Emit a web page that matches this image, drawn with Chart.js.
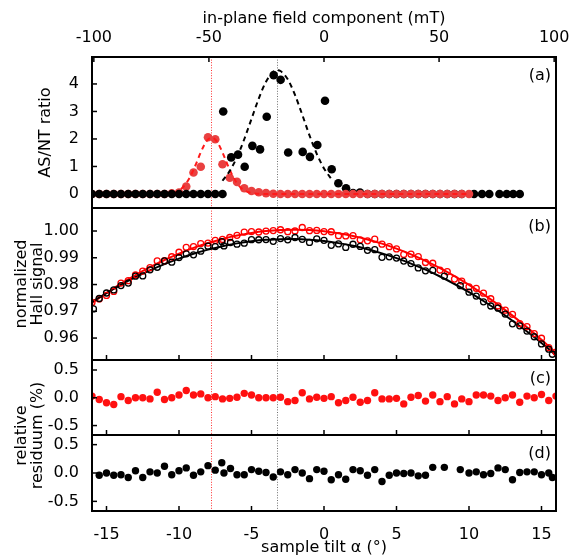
<!DOCTYPE html>
<html><head><meta charset="utf-8">
<script src="https://cdn.jsdelivr.net/npm/chart.js@4.4.1/dist/chart.umd.min.js"></script>
<style>
html,body{margin:0;padding:0;background:#fff;}
#wrap{position:relative;width:576px;height:559px;background:#fff;}
#wrap canvas{position:absolute;left:0;top:0;}
</style></head><body>
<div id="wrap">
<canvas id="cA" width="576" height="559"></canvas>
<canvas id="cB" width="576" height="559"></canvas>
<canvas id="cC" width="576" height="559"></canvas>
<canvas id="cD" width="576" height="559"></canvas>
<canvas id="cT" width="576" height="559"></canvas>
</div>
<script>
// ---------- tick labels ----------
const xTickVals = [-15,-10,-5,0,5,10,15];
const xTickLabels = ['-15','-10','-5','0','5','10','15'];
const topTickVals = [-100,-50,0,50,100];
const topTickLabels = ['-100','-50','0','50','100'];
const aYTickVals = [0,1,2,3,4];
const aYTickLabels = ['0','1','2','3','4'];
const bYTickVals = [0.96,0.97,0.98,0.99,1.00];
const bYTickLabels = ['0.96','0.97','0.98','0.99','1.00'];
const rYTickVals = [-0.5,0,0.5];
const rYTickLabels = ['-0.5','0.0','0.5'];
const markerAngles = [-7.78, -3.26];

// ---------- panel (a): AS/NT ratio ----------
const aBlackX = [-16,-15.5,-15,-14.5,-14,-13.5,-13,-12.5,-12,-11.5,-11,-10.5,-10,-9.5,-9,-8.5,-8,-7.5,-7,
  -6.95,-6.4,-5.93,-5.47,-4.94,-4.41,-3.95,-3.47,-2.99,-2.47,-1.47,-0.97,-0.46,0.07,0.53,0.99,1.52,2.0,2.48,
  3,3.5,4,4.5,5,5.5,6,6.5,7,7.5,8,8.5,9,9.5,
  10.35,10.9,11.4,12.1,12.6,13.05,13.5];
const aBlackY = [0,0,0,0,0,0,0,0,0,0,0,0,0,0,0,0,0,0,0,
  3.0,1.33,1.43,0.99,1.75,1.62,2.81,4.32,4.15,1.51,1.53,1.35,1.78,3.39,0.90,0.39,0.21,0.03,0.05,
  0,0,0,0,0,0,0,0,0,0,0,0,0,0,
  0,0,0,0,0,0,0];
const aRedX = [-16,-15.5,-15,-14.5,-14,-13.5,-13,-12.5,-12,-11.5,-11,-10.5,-10,-9.5,-9,-8.5,-8,-7.5,-7,-6.5,-6,-5.5,-5,-4.5,-4,-3.5,
  -3,-2.5,-2,-1.5,-1,-0.5,0,0.5,1,1.5,2,2.5,3,3.5,4,4.5,5,5.5,6,6.5,7,7.5,8,8.5,9,9.5,10];
const aRedY = [0,0,0,0,0,0,0,0,0,0,0,0.02,0.05,0.27,0.78,0.99,2.06,1.99,1.08,0.59,0.44,0.21,0.11,0.06,0.03,0.01,
  0,0,0,0,0,0,0,0,0,0,0,0,0,0,0,0,0,0,0,0,0,0,0,0,0,0,0];
const aRedFitX = [-16,-12,-11,-10.5,-10.25,-10,-9.75,-9.5,-9.25,-9,-8.75,-8.5,-8.25,-8,-7.75,-7.5,-7.25,-7,-6.75,-6.5,-6.25,-6,-5.75,-5.5,-5,-4.5,-4,10];
const aRedFitY = [0,0,0.007,0.034,0.069,0.13,0.235,0.39,0.606,0.88,1.19,1.51,1.79,1.98,2.05,1.98,1.79,1.51,1.19,0.88,0.606,0.39,0.235,0.13,0.034,0.007,0,0];
const aBlackFitX = [-7,-6.5,-6,-5.5,-5,-4.5,-4,-3.5,-3.2,-3,-2.5,-2,-1.5,-1,-0.5,0,0.6];
const aBlackFitY = [0.48,0.84,1.34,1.99,2.73,3.47,4.08,4.44,4.50,4.47,4.17,3.60,2.88,2.13,1.46,0.93,0.48];

// ---------- panel (b): normalized Hall signal ----------
const bRedX = [-16,-15.5,-15,-14.5,-14,-13.5,-13,-12.5,-12,-11.5,-11,-10.5,-10,-9.5,-9,-8.5,-8,-7.5,-7,-6.5,-6,-5.5,-5,-4.5,-4,-3.5,-3,-2.5,-2,-1.5,-1,-0.5,
  0,0.5,1,1.5,2,2.5,3,3.5,4,4.5,5,5.5,6,6.5,7,7.5,8,8.5,9,9.5,10,10.5,11,11.5,12,12.5,13,13.5,14,14.5,15,15.5,16];
const bRedY = [0.97333,0.97464,0.97594,0.97741,0.98053,0.98146,0.98356,0.98504,0.98631,0.98884,0.98888,0.99038,0.99207,0.99392,0.99418,0.99529,
  0.9955,0.99648,0.99685,0.99758,0.9984,0.99959,0.99978,0.99963,0.99997,1.00018,1.00048,0.99974,1.0,1.00132,1.00014,1.00022,
  0.99979,0.99973,0.99826,0.99816,0.99825,0.9967,0.99635,0.99696,0.99507,0.99414,0.9933,0.99124,0.99136,0.99044,0.98823,0.98796,
  0.98542,0.98482,0.98204,0.98129,0.97916,0.97857,0.97679,0.97468,0.97199,0.97043,0.96886,0.96542,0.96429,0.96168,0.95993,0.95641,0.95472];
const bBlackX = [-15.9,-15.5,-15,-14.5,-14,-13.5,-13,-12.5,-12,-11.5,-11,-10.5,-10,-9.5,-9,-8.5,-8,-7.5,-7.05,-6.9,-6.45,
  -6,-5.5,-5,-4.5,-4,-3.5,-3,-2.5,-2,-1.5,-1,-0.5,0,0.5,1,1.5,2,2.5,3,3.5,4,4.5,5,5.5,6,6.5,7,7.5,8.3,9.4,
  10,10.5,11,11.5,12,12.5,13,13.5,14,14.5,15,15.5,15.75];
const bBlackY = [0.9709,0.97478,0.97683,0.97798,0.97961,0.98053,0.98312,0.98323,0.9855,0.98646,0.98881,0.98835,0.99008,0.99148,0.99109,0.99247,0.99433,0.99419,0.99606,0.99444,0.99571,
  0.99508,0.99547,0.99676,0.99673,0.99679,0.99613,0.99716,0.9967,0.99757,0.99688,0.99573,0.99709,0.99653,0.99466,0.99517,0.99388,0.99506,0.99423,0.99278,0.99303,0.99017,0.99037,0.98987,0.98876,0.98784,0.9862,0.98514,0.98526,0.98314,0.97957,
  0.97714,0.9757,0.97354,0.97197,0.97115,0.96897,0.96532,0.96456,0.96262,0.96048,0.95782,0.95586,0.95395];
const bFitX = [-16,-15,-14,-13,-12,-11,-10,-9,-8,-7,-6,-5,-4,-3,-2,-1,0,1,2,3,4,5,6,7,8,9,10,11,12,13,14,15,16];
const bRedFitY = [0.97304,0.97682,0.98033,0.98356,0.98651,0.98918,0.99157,0.99368,0.9955,0.99705,0.9983,0.99928,0.99997,1.00038,1.0005,1.00034,
  0.99989,0.99916,0.99815,0.99685,0.99527,0.9934,0.99126,0.98882,0.98611,0.98312,0.97985,0.9763,0.97248,0.96838,0.964,0.95935,0.95443];
const bBlackFitY = [0.97349,0.97683,0.9799,0.98273,0.9853,0.98762,0.98968,0.99149,0.99304,0.99434,0.99538,0.99616,0.99669,0.99696,0.99697,0.99673,
  0.99623,0.99547,0.99446,0.99318,0.99166,0.98987,0.98784,0.98554,0.983,0.9802,0.97714,0.97384,0.97028,0.96648,0.96242,0.95812,0.95357];

// ---------- panel (c): red relative residuum (%) ----------
const cX = bRedX;
const cY = [0.03,-0.03,-0.09,-0.12,0.02,-0.05,0,0,-0.02,0.10,-0.03,0,0.05,0.13,0.05,0.07,0,0.02,-0.02,-0.01,0.01,0.08,0.05,0,0,0,0.01,-0.07,-0.05,0.09,-0.02,0.01,
  -0.01,0.02,-0.09,-0.05,0.01,-0.08,-0.05,0.09,-0.02,-0.02,-0.01,-0.11,0.01,0.04,-0.06,0.05,-0.07,0.02,-0.11,-0.02,-0.07,0.05,0.05,0.03,-0.05,0,0.05,-0.08,0.03,0,0.06,-0.05,0.03];

// ---------- panel (d): black relative residuum (%) ----------
const dX = [-15.5,-15,-14.5,-14,-13.5,-13,-12.5,-12,-11.5,-11,-10.5,-10,-9.5,-9,-8.5,-8,-7.5,-7.05,-6.9,-6.45,
  -6,-5.5,-5,-4.5,-4,-3.5,-3,-2.5,-2,-1.5,-1,-0.5,0,0.5,1,1.5,2,2.5,3,3.5,4,4.5,5,5.5,6,6.5,7,7.5,8.3,9.4,
  10,10.5,11,11.5,12,12.5,13,13.5,14,14.5,15,15.5,15.75];
const dY = [-0.04,0,-0.04,-0.03,-0.08,0.04,-0.08,0.02,0,0.12,-0.03,0.04,0.09,-0.04,0.02,0.13,0.05,0.18,0,0.08,
  -0.03,-0.03,0.06,0.03,0.01,-0.07,0.02,-0.03,0.06,0,-0.10,0.06,0.03,-0.12,-0.03,-0.11,0.06,0.04,-0.04,0.06,-0.15,-0.04,0,-0.01,0,-0.05,-0.04,0.10,0.10,0.06,
  0,0.02,-0.03,-0.01,0.09,0.06,-0.12,0.01,0.02,0.02,-0.03,0,-0.08];

// ---------- setup ----------
const FONT = "'DejaVu Sans', 'Liberation Sans', Arial, sans-serif";
Chart.defaults.font.family = FONT;
Chart.defaults.font.size = 16;
Chart.defaults.color = '#000';

const pts = (xs, ys) => xs.map((x, i) => ({x: x, y: ys[i]}));

const deco = {
  id: 'deco',
  beforeDatasetsDraw(chart, args, o) {
    const ctx = chart.ctx, a = chart.chartArea, xs = chart.scales.x;
    if (!o.vlines) return;
    ctx.save();
    ctx.lineWidth = 1;
    ctx.setLineDash([1, 1.6]);
    o.vlines.forEach((v, i) => {
      const px = Math.round(xs.getPixelForValue(v)) + 0.5;
      ctx.strokeStyle = i === 0 ? '#ff3030' : '#707070';
      ctx.beginPath(); ctx.moveTo(px, a.top); ctx.lineTo(px, a.bottom); ctx.stroke();
    });
    ctx.restore();
  },
  afterDatasetsDraw(chart, args, o) {
    const ctx = chart.ctx, a = chart.chartArea;
    ctx.save();
    ctx.strokeStyle = '#000';
    ctx.lineWidth = 1.5;
    ctx.setLineDash([]);
    if (o.yTicks) {
      const ys = chart.scales.y;
      o.yTicks.forEach(v => { const py = ys.getPixelForValue(v);
        ctx.beginPath(); ctx.moveTo(a.left, py); ctx.lineTo(a.left + 5, py); ctx.stroke(); });
    }
    if (o.bottomTicks) {
      const xs = chart.scales.x;
      o.bottomTicks.forEach(v => { const px = xs.getPixelForValue(v);
        ctx.beginPath(); ctx.moveTo(px, a.bottom); ctx.lineTo(px, a.bottom - 5); ctx.stroke(); });
    }
    if (o.topTicks) {
      const xs = chart.scales.x2;
      o.topTicks.forEach(v => { const px = xs.getPixelForValue(v);
        ctx.beginPath(); ctx.moveTo(px, a.top); ctx.lineTo(px, a.top + 5); ctx.stroke(); });
    }
    if (o.frame) {
      ctx.lineWidth = 2;
      ctx.strokeRect(a.left, a.top, a.right - a.left, a.bottom - a.top);
    }
    if (o.label) {
      ctx.fillStyle = '#000';
      ctx.font = '16px ' + FONT;
      ctx.textAlign = 'right';
      ctx.textBaseline = 'middle';
      ctx.fillText(o.label, a.right - 5, a.top + 18.5);
    }
    ctx.restore();
  }
};

function yAxis(min, max, vals, labels, title, pad) {
  return {
    type: 'linear', position: 'left', min: min, max: max,
    grid: {display: false}, border: {display: false},
    afterFit: s => { s.width = 92; },
    afterBuildTicks: s => { s.ticks = vals.map(v => ({value: v})); },
    ticks: {display: labels !== null, padding: 5, color: '#000', callback: (v, i) => labels ? labels[i] : ''},
    title: title ? {display: true, text: title, color: '#000', font: {size: 16, lineHeight: 1.05}, padding: {top: pad, bottom: 0}} : {display: false}
  };
}
function hiddenX() {
  return {type: 'linear', position: 'bottom', min: -16, max: 16, display: false};
}
function dots(data, color, r, order) {
  return {data: data, showLine: false, pointRadius: r, pointBorderWidth: 0,
    pointBackgroundColor: color, pointBorderColor: color, backgroundColor: color, borderColor: color, clip: 0, order: order};
}
function rings(data, color, order) {
  return {data: data, showLine: false, pointRadius: 3, pointBorderWidth: 1.3,
    pointBackgroundColor: 'rgba(0,0,0,0)', pointBorderColor: color, backgroundColor: 'rgba(0,0,0,0)', borderColor: color, clip: 0, order: order};
}
function curve(data, color, dash, width, order) {
  return {data: data, showLine: true, pointRadius: 0, borderWidth: width, borderDash: dash,
    borderColor: color, backgroundColor: color, cubicInterpolationMode: 'monotone', clip: 0, order: order};
}
function panel(id, datasets, padTop, padBottom, scales, decoOpts) {
  return new Chart(document.getElementById(id), {
    type: 'scatter',
    data: {datasets: datasets},
    options: {
      responsive: false, animation: false, devicePixelRatio: 1, events: [],
      layout: {padding: {left: 0, right: 20, top: padTop, bottom: padBottom}},
      plugins: {legend: {display: false}, tooltip: {enabled: false}, deco: decoOpts},
      scales: scales
    },
    plugins: [deco]
  });
}

// ---------- panel (a) ----------
const aBlack = pts(aBlackX, aBlackY);
const RED_A = '#e94040';
panel('cA', [
  curve(pts(aBlackFitX, aBlackFitY), '#000', [5, 4], 2, 0),
  dots(aBlack.filter(p => p.x <= -7), '#000', 4.3, 1),
  curve(pts(aRedFitX, aRedFitY), '#ff1a1a', [5, 4], 2, 2),
  dots(pts(aRedX, aRedY), RED_A, 4.3, 3),
  dots(aBlack.filter(p => p.x > -7), '#000', 4.3, 4)
], 0, 351, {
  x: hiddenX(),
  x2: {
    type: 'linear', position: 'top', min: -100.8, max: 100.8,
    grid: {display: false}, border: {display: false},
    afterFit: s => { s.height = 57; },
    afterBuildTicks: s => { s.ticks = topTickVals.map(v => ({value: v})); },
    ticks: {padding: 2, color: '#000', maxRotation: 0, callback: (v, i) => topTickLabels[i]},
    title: {display: true, text: 'in-plane field component (mT)', color: '#000', padding: {top: 9, bottom: 0}}
  },
  y: yAxis(-0.51, 4.98, aYTickVals, aYTickLabels, 'AS/NT ratio', 37)
}, {frame: true, yTicks: aYTickVals, topTicks: topTickVals, vlines: markerAngles, label: '(a)'});

// ---------- panel (b) ----------
panel('cB', [
  rings(pts(bBlackX, bBlackY), '#000', 0),
  rings(pts(bRedX, bRedY), '#ff0000', 1),
  curve(pts(bFitX, bBlackFitY), '#000', [], 2, 2),
  curve(pts(bFitX, bRedFitY), '#ff0000', [], 2, 3)
], 208, 199, {
  x: hiddenX(),
  y: yAxis(0.9518, 1.0086, bYTickVals, bYTickLabels, ['normalized', 'Hall signal'], 13)
}, {frame: true, yTicks: bYTickVals, bottomTicks: xTickVals, vlines: markerAngles, label: '(b)'});

// ---------- panel (c) ----------
panel('cC', [
  dots(pts(cX, cY), '#ff1010', 3.7, 0)
], 360, 124, {
  x: hiddenX(),
  y: yAxis(-0.67, 0.68, rYTickVals, rYTickLabels, null, 0)
}, {frame: true, yTicks: rYTickVals, bottomTicks: xTickVals, vlines: markerAngles, label: '(c)'});

// ---------- panel (d) ----------
panel('cD', [
  dots(pts(dX, dY), '#000', 3.7, 0)
], 435, 0, {
  x: {
    type: 'linear', position: 'bottom', min: -16, max: 16,
    grid: {display: false}, border: {display: false},
    afterFit: s => { s.height = 48; },
    afterBuildTicks: s => { s.ticks = xTickVals.map(v => ({value: v})); },
    ticks: {padding: 6, color: '#000', maxRotation: 0, callback: (v, i) => xTickLabels[i]},
    title: {display: true, text: 'sample tilt \u03b1 (\u00b0)', color: '#000', padding: {top: 0, bottom: 2}}
  },
  y: yAxis(-0.67, 0.67, rYTickVals, rYTickLabels, null, 0)
}, {frame: true, yTicks: rYTickVals, bottomTicks: xTickVals, vlines: markerAngles, label: '(d)'});

// ---------- shared residual title ----------
panel('cT', [], 360, 48, {
  x: hiddenX(),
  y: {
    type: 'linear', position: 'left', min: 0, max: 1,
    grid: {display: false}, border: {display: false},
    afterFit: s => { s.width = 92; },
    ticks: {display: false},
    title: {display: true, text: ['relative', 'residuum (%)'], color: '#000', font: {size: 16, lineHeight: 1.05}, padding: {top: 13, bottom: 0}}
  }
}, {});
</script>
</body></html>
